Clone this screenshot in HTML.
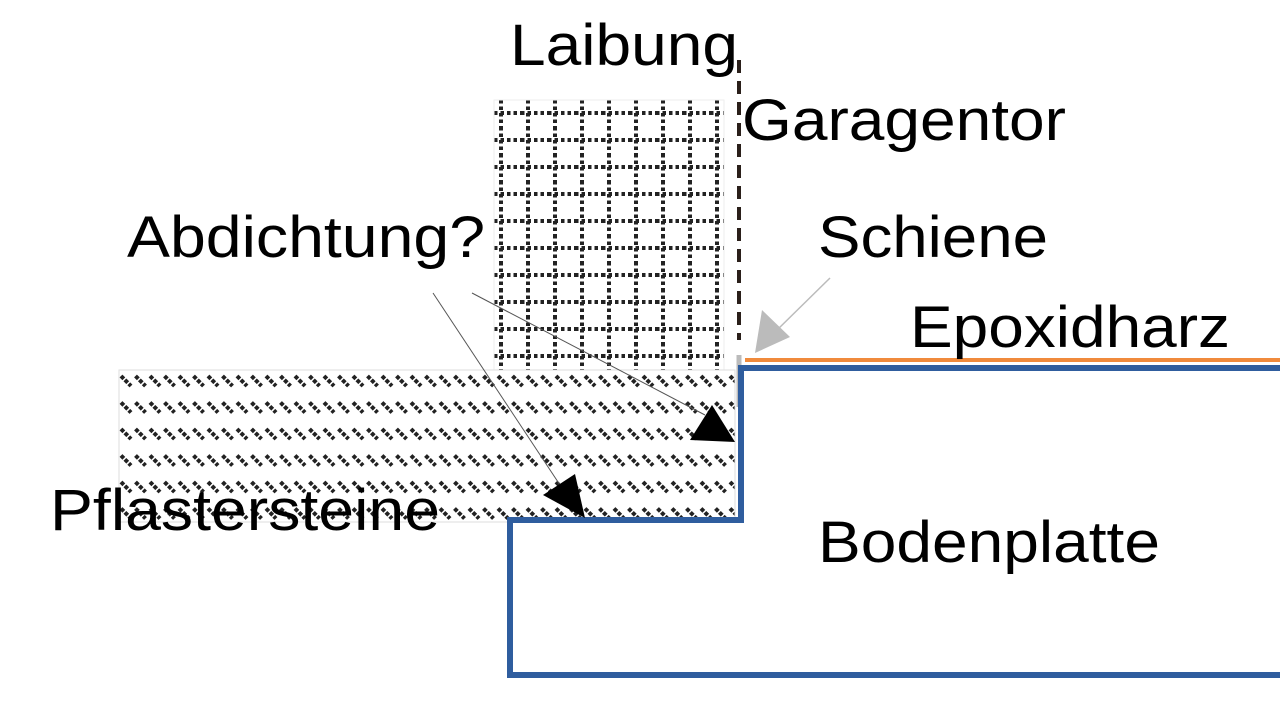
<!DOCTYPE html>
<html><head><meta charset="utf-8"><style>html,body{margin:0;padding:0;background:#fff;width:1280px;height:713px;overflow:hidden}</style></head>
<body>
<svg width="1280" height="713" viewBox="0 0 1280 713" xmlns="http://www.w3.org/2000/svg" font-family="Liberation Sans, sans-serif" font-size="58">
<defs>
<pattern id="grid" x="494" y="100" width="27" height="27" patternUnits="userSpaceOnUse">
<line x1="0" y1="13" x2="27" y2="13" stroke="#222" stroke-width="4" stroke-dasharray="3.5 3"/>
<line x1="7" y1="0" x2="7" y2="27" stroke="#222" stroke-width="4" stroke-dasharray="3.5 3"/>
</pattern>
<pattern id="hatch" x="119" y="370" width="14.5" height="26.5" patternUnits="userSpaceOnUse">
<line x1="2" y1="6" x2="12" y2="16" stroke="#222" stroke-width="4" stroke-dasharray="4 1.5"/>
</pattern>
</defs>
<rect x="494" y="100" width="230" height="270" fill="url(#grid)" stroke="#eee" stroke-width="1"/>
<rect x="119" y="370" width="616" height="152" fill="url(#hatch)" stroke="#ddd" stroke-width="1"/>
<line x1="739" y1="60" x2="739" y2="340" stroke="#2a1f1a" stroke-width="4" stroke-dasharray="13 8"/>
<line x1="739" y1="355" x2="739" y2="407" stroke="#bbb" stroke-width="5"/>
<line x1="745" y1="360" x2="1280" y2="360" stroke="#f08a3c" stroke-width="4"/>
<polyline points="1280,368 741,368 741,520 510,520 510,675 1280,675" fill="none" stroke="#2f5d9e" stroke-width="6"/>
<line x1="830" y1="278" x2="775" y2="332" stroke="#bbb" stroke-width="1.5"/>
<polygon points="755,353 762,310 790,337" fill="#bbb"/>
<line x1="472" y1="293" x2="705" y2="415" stroke="#555" stroke-width="1"/>
<polygon points="735,442 690,440 712,405" fill="#000"/>
<line x1="433" y1="293" x2="560" y2="485" stroke="#555" stroke-width="1"/>
<polygon points="585,518 543,495 575,474" fill="#000"/>
<text x="510" y="65" textLength="228" lengthAdjust="spacingAndGlyphs">Laibung</text>
<text x="742" y="140" textLength="324" lengthAdjust="spacingAndGlyphs">Garagentor</text>
<text x="818" y="257" textLength="230" lengthAdjust="spacingAndGlyphs">Schiene</text>
<text x="910" y="347" textLength="320" lengthAdjust="spacingAndGlyphs">Epoxidharz</text>
<text x="127" y="257" textLength="358" lengthAdjust="spacingAndGlyphs">Abdichtung?</text>
<text x="50" y="530" textLength="390" lengthAdjust="spacingAndGlyphs">Pflastersteine</text>
<text x="818" y="562" textLength="342" lengthAdjust="spacingAndGlyphs">Bodenplatte</text>
</svg>
</body></html>
